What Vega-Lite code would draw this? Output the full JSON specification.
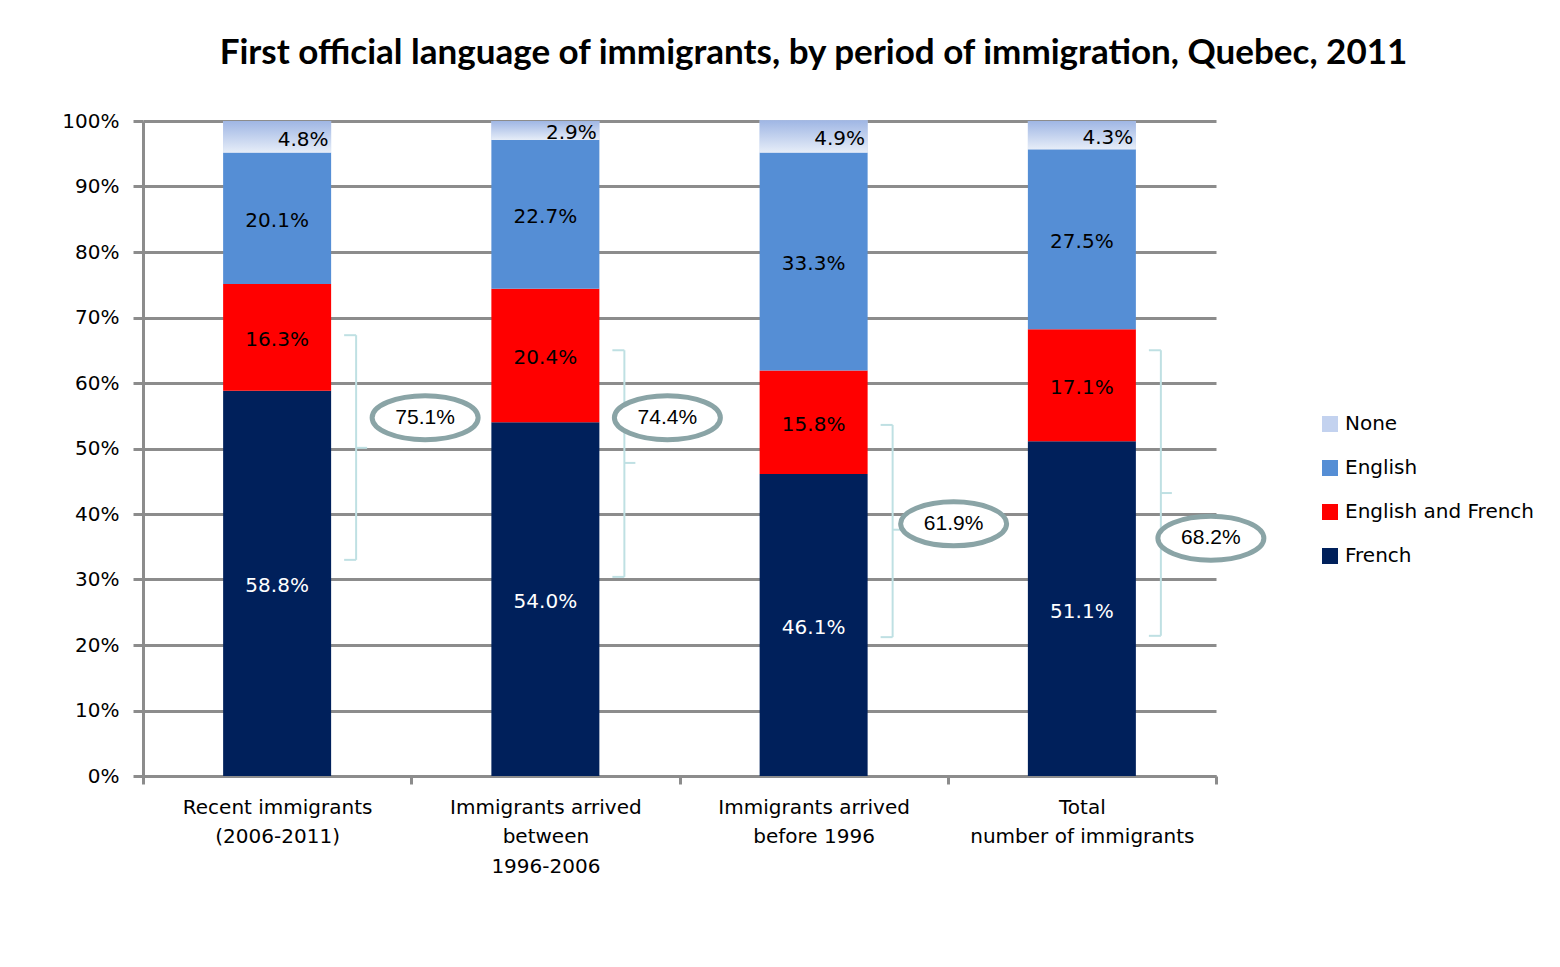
{
  "$schema": "https://vega.github.io/schema/vega-lite/v6.json",
  "width": 1073,
  "height": 655,
  "autosize": "none",
  "padding": {"left": 143, "top": 121, "right": 344, "bottom": 191},
  "background": "white",
  "config": {"font": "DejaVu Sans", "view": {"stroke": null}},
  "title": {
    "text": "First official language of immigrants, by period of immigration, Quebec, 2011",
    "font": "Lato", "fontSize": 35, "fontWeight": "bold", "color": "black",
    "anchor": "middle", "frame": "group", "dx": 134, "offset": 40
  },
  "datasets": {
    "shares": [
      {"cat": "Recent immigrants (2006-2011)", "lang": "French", "rank": 1, "pct": 58.8},
      {"cat": "Recent immigrants (2006-2011)", "lang": "English and French", "rank": 2, "pct": 16.3},
      {"cat": "Recent immigrants (2006-2011)", "lang": "English", "rank": 3, "pct": 20.1},
      {"cat": "Recent immigrants (2006-2011)", "lang": "None", "rank": 4, "pct": 4.8},
      {"cat": "Immigrants arrived between 1996-2006", "lang": "French", "rank": 1, "pct": 54.0},
      {"cat": "Immigrants arrived between 1996-2006", "lang": "English and French", "rank": 2, "pct": 20.4},
      {"cat": "Immigrants arrived between 1996-2006", "lang": "English", "rank": 3, "pct": 22.7},
      {"cat": "Immigrants arrived between 1996-2006", "lang": "None", "rank": 4, "pct": 2.9},
      {"cat": "Immigrants arrived before 1996", "lang": "French", "rank": 1, "pct": 46.1},
      {"cat": "Immigrants arrived before 1996", "lang": "English and French", "rank": 2, "pct": 15.8},
      {"cat": "Immigrants arrived before 1996", "lang": "English", "rank": 3, "pct": 33.3},
      {"cat": "Immigrants arrived before 1996", "lang": "None", "rank": 4, "pct": 4.9},
      {"cat": "Total number of immigrants", "lang": "French", "rank": 1, "pct": 51.1},
      {"cat": "Total number of immigrants", "lang": "English and French", "rank": 2, "pct": 17.1},
      {"cat": "Total number of immigrants", "lang": "English", "rank": 3, "pct": 27.5},
      {"cat": "Total number of immigrants", "lang": "None", "rank": 4, "pct": 4.3}
    ],
    "totals": [
      {"cat": "Recent immigrants (2006-2011)", "total": "75.1%", "hi": 67.3, "lo": 33.0, "mid": 50.1, "ey": 54.7},
      {"cat": "Immigrants arrived between 1996-2006", "total": "74.4%", "hi": 65.0, "lo": 30.4, "mid": 47.8, "ey": 54.7},
      {"cat": "Immigrants arrived before 1996", "total": "61.9%", "hi": 53.6, "lo": 21.2, "mid": 37.6, "ey": 38.5},
      {"cat": "Total number of immigrants", "total": "68.2%", "hi": 65.0, "lo": 21.4, "mid": 43.2, "ey": 36.3}
    ]
  },
  "encoding": {
    "x": {
      "field": "cat", "type": "nominal", "sort": null,
      "scale": {"paddingInner": 0, "paddingOuter": 0},
      "axis": {
        "title": null, "labelAngle": 0, "labelFont": "DejaVu Sans", "labelFontSize": 20, "labelColor": "black",
        "labelLimit": 400, "labelPadding": 13, "labelLineHeight": 29.5, "labelBaseline": "top",
        "domainColor": "#8c8c8c", "domainWidth": 3, "tickColor": "#8c8c8c", "tickWidth": 3, "tickSize": 8,
        "tickBand": "extent",
        "labelExpr": "!isValid(datum.value) ? '' : datum.value == 'Recent immigrants (2006-2011)' ? ['Recent immigrants', '(2006-2011)'] : datum.value == 'Immigrants arrived between 1996-2006' ? ['Immigrants arrived', 'between', '1996-2006'] : datum.value == 'Immigrants arrived before 1996' ? ['Immigrants arrived', 'before 1996'] : datum.value == 'Total number of immigrants' ? ['Total', 'number of immigrants'] : ''"
      }
    }
  },
  "layer": [
    {
      "data": {"name": "shares"},
      "transform": [
        {"stack": "pct", "groupby": ["cat"], "sort": [{"field": "rank", "order": "ascending"}], "as": ["y0", "y1"]}
      ],
      "mark": {"type": "bar", "width": {"band": 0.4026}},
      "encoding": {
        "y": {
          "field": "y0", "type": "quantitative", "scale": {"domain": [0, 100]},
          "axis": {
            "title": null, "values": [0, 10, 20, 30, 40, 50, 60, 70, 80, 90, 100],
            "labelExpr": "datum.value + '%'", "labelFont": "DejaVu Sans", "labelFontSize": 20, "labelColor": "black",
            "labelPadding": 14, "grid": true, "gridColor": "#8c8c8c", "gridWidth": 3,
            "domainColor": "#8c8c8c", "domainWidth": 3, "tickColor": "#8c8c8c", "tickWidth": 3, "tickSize": 10
          }
        },
        "y2": {"field": "y1"},
        "color": {
          "field": "lang", "type": "nominal",
          "scale": {
            "domain": ["None", "English", "English and French", "French"],
            "range": ["#c3d2ef", "#558ed5", "#ff0000", "#00205b"]
          },
          "legend": {
            "title": null, "orient": "none", "legendX": 1177, "legendY": 293,
            "symbolType": "square", "symbolSize": 256, "symbolStrokeWidth": 0,
            "labelFont": "DejaVu Sans", "labelFontSize": 20, "labelColor": "black", "labelOffset": 5,
            "rowPadding": 24, "labelLimit": 300
          }
        }
      }
    },
    {
      "data": {"name": "shares"},
      "transform": [
        {"stack": "pct", "groupby": ["cat"], "sort": [{"field": "rank", "order": "ascending"}], "as": ["y0", "y1"]},
        {"filter": "datum.lang == 'None'"}
      ],
      "mark": {
        "type": "bar", "width": {"band": 0.4026},
        "color": {"gradient": "linear", "x1": 0, "y1": 0, "x2": 0, "y2": 1, "stops": [{"offset": 0, "color": "#9fb6e4"}, {"offset": 1, "color": "#e6edf8"}]}
      },
      "encoding": {
        "y": {"field": "y0", "type": "quantitative"},
        "y2": {"field": "y1"}
      }
    },
    {
      "data": {"name": "shares"},
      "transform": [
        {"stack": "pct", "groupby": ["cat"], "sort": [{"field": "rank", "order": "ascending"}], "as": ["y0", "y1"]},
        {"filter": "datum.lang != 'None'"},
        {"calculate": "(datum.y0 + datum.y1) / 2", "as": "ymid"},
        {"calculate": "format(datum.pct, '.1f') + '%'", "as": "lbl"}
      ],
      "mark": {"type": "text", "font": "DejaVu Sans", "fontSize": 20, "baseline": "middle", "dy": 3},
      "encoding": {
        "y": {"field": "ymid", "type": "quantitative"},
        "text": {"field": "lbl"},
        "color": {"condition": {"test": "datum.lang == 'French'", "value": "white"}, "value": "black"}
      }
    },
    {
      "data": {"name": "shares"},
      "transform": [
        {"stack": "pct", "groupby": ["cat"], "sort": [{"field": "rank", "order": "ascending"}], "as": ["y0", "y1"]},
        {"filter": "datum.lang == 'None'"},
        {"calculate": "(datum.y0 + datum.y1) / 2", "as": "ymid"},
        {"calculate": "format(datum.pct, '.1f') + '%'", "as": "lbl"}
      ],
      "mark": {"type": "text", "font": "DejaVu Sans", "fontSize": 20, "baseline": "middle", "dy": 3, "dx": 26, "color": "black"},
      "encoding": {
        "y": {"field": "ymid", "type": "quantitative"},
        "text": {"field": "lbl"}
      }
    },
    {
      "data": {"name": "totals"},
      "mark": {"type": "rule", "color": "#bfe0e3", "strokeWidth": 2, "xOffset": 79},
      "encoding": {
        "y": {"field": "lo", "type": "quantitative"},
        "y2": {"field": "hi"}
      }
    },
    {
      "data": {"name": "totals"},
      "mark": {"type": "rule", "color": "#bfe0e3", "strokeWidth": 2, "xOffset": 67, "x2Offset": 79},
      "encoding": {
        "x2": {"field": "cat"},
        "y": {"field": "hi", "type": "quantitative"}
      }
    },
    {
      "data": {"name": "totals"},
      "mark": {"type": "rule", "color": "#bfe0e3", "strokeWidth": 2, "xOffset": 67, "x2Offset": 79},
      "encoding": {
        "x2": {"field": "cat"},
        "y": {"field": "lo", "type": "quantitative"}
      }
    },
    {
      "data": {"name": "totals"},
      "mark": {"type": "rule", "color": "#bfe0e3", "strokeWidth": 2, "xOffset": 79, "x2Offset": 90},
      "encoding": {
        "x2": {"field": "cat"},
        "y": {"field": "mid", "type": "quantitative"}
      }
    },
    {
      "data": {"name": "totals"},
      "transform": [{"filter": "datum.cat == 'Recent immigrants (2006-2011)'"}],
      "encoding": {"y": {"field": "ey", "type": "quantitative"}},
      "layer": [
        {"mark": {"type": "point", "shape": "M-1,0C-1,-0.229,-0.552,-0.415,0,-0.415C0.552,-0.415,1,-0.229,1,0C1,0.229,0.552,0.415,0,0.415C-0.552,0.415,-1,0.229,-1,0Z", "size": 11236, "filled": true, "fill": "white", "stroke": "#8aa4a6", "strokeWidth": 5, "opacity": 1, "xOffset": 148}},
        {"mark": {"type": "text", "font": "Liberation Sans", "fontSize": 21, "color": "black", "xOffset": 148, "baseline": "middle"}, "encoding": {"text": {"field": "total"}}}
      ]
    },
    {
      "data": {"name": "totals"},
      "transform": [{"filter": "datum.cat == 'Immigrants arrived between 1996-2006'"}],
      "encoding": {"y": {"field": "ey", "type": "quantitative"}},
      "layer": [
        {"mark": {"type": "point", "shape": "M-1,0C-1,-0.229,-0.552,-0.415,0,-0.415C0.552,-0.415,1,-0.229,1,0C1,0.229,0.552,0.415,0,0.415C-0.552,0.415,-1,0.229,-1,0Z", "size": 11236, "filled": true, "fill": "white", "stroke": "#8aa4a6", "strokeWidth": 5, "opacity": 1, "xOffset": 122}},
        {"mark": {"type": "text", "font": "Liberation Sans", "fontSize": 21, "color": "black", "xOffset": 122, "baseline": "middle"}, "encoding": {"text": {"field": "total"}}}
      ]
    },
    {
      "data": {"name": "totals"},
      "transform": [{"filter": "datum.cat == 'Immigrants arrived before 1996'"}],
      "encoding": {"y": {"field": "ey", "type": "quantitative"}},
      "layer": [
        {"mark": {"type": "point", "shape": "M-1,0C-1,-0.229,-0.552,-0.415,0,-0.415C0.552,-0.415,1,-0.229,1,0C1,0.229,0.552,0.415,0,0.415C-0.552,0.415,-1,0.229,-1,0Z", "size": 11236, "filled": true, "fill": "white", "stroke": "#8aa4a6", "strokeWidth": 5, "opacity": 1, "xOffset": 140}},
        {"mark": {"type": "text", "font": "Liberation Sans", "fontSize": 21, "color": "black", "xOffset": 140, "baseline": "middle"}, "encoding": {"text": {"field": "total"}}}
      ]
    },
    {
      "data": {"name": "totals"},
      "transform": [{"filter": "datum.cat == 'Total number of immigrants'"}],
      "encoding": {"y": {"field": "ey", "type": "quantitative"}},
      "layer": [
        {"mark": {"type": "point", "shape": "M-1,0C-1,-0.229,-0.552,-0.415,0,-0.415C0.552,-0.415,1,-0.229,1,0C1,0.229,0.552,0.415,0,0.415C-0.552,0.415,-1,0.229,-1,0Z", "size": 11236, "filled": true, "fill": "white", "stroke": "#8aa4a6", "strokeWidth": 5, "opacity": 1, "xOffset": 129}},
        {"mark": {"type": "text", "font": "Liberation Sans", "fontSize": 21, "color": "black", "xOffset": 129, "baseline": "middle"}, "encoding": {"text": {"field": "total"}}}
      ]
    }
  ]
}
